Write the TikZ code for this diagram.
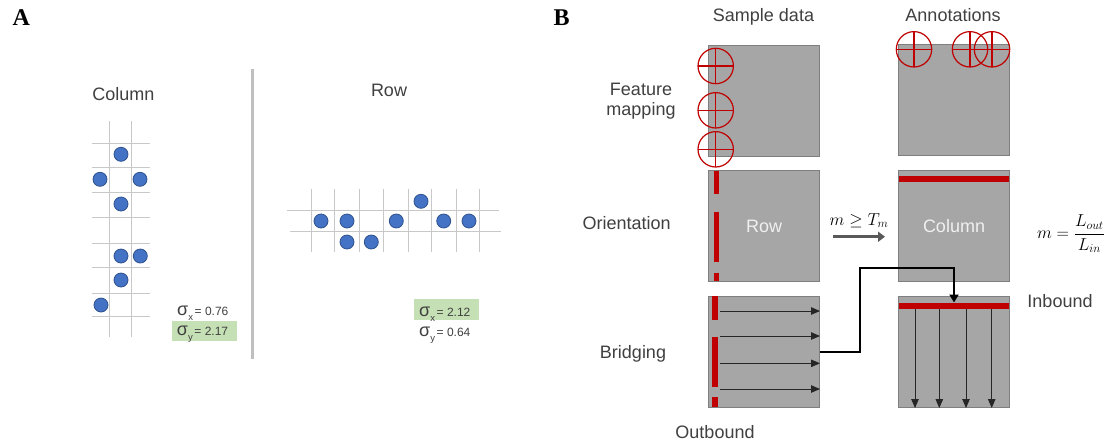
\documentclass[tikz,border=0pt]{standalone}
\usepackage{fontspec}
\setmainfont{Liberation Sans}
\newfontfamily\headfont{Liberation Serif}
\usetikzlibrary{arrows.meta}

\definecolor{ink}{RGB}{64,64,64}
\definecolor{gridgray}{RGB}{200,200,200}
\definecolor{dotblue}{RGB}{68,114,196}
\definecolor{dotedge}{RGB}{47,82,143}
\definecolor{hlgreen}{RGB}{197,224,180}
\definecolor{sepgray}{RGB}{191,191,191}
\definecolor{tilefill}{RGB}{166,166,166}
\definecolor{tileedge}{RGB}{127,127,127}
\definecolor{tiletext}{RGB}{240,240,240}
\definecolor{markred}{RGB}{192,0,0}
\definecolor{flowink}{RGB}{38,38,38}
\definecolor{arrowgray}{RGB}{89,89,89}

% sigma with a lowered subscript, followed by its value
\newcommand\sdev[2]{{\fontsize{18}{18}\selectfont σ}\raisebox{-5pt}{\fontsize{9.5}{9.5}\selectfont #1}\,{\fontsize{12}{12}\selectfont= #2}}

\tikzset{
  lbl/.style={font=\fontsize{18}{20}\selectfont, text=ink, inner sep=0, anchor=base},
  head/.style={font=\headfont\bfseries\fontsize{24}{24}\selectfont, inner sep=0, anchor=base},
  sd/.style={text=ink, inner sep=0, anchor=base west},
  gridline/.style={gridgray, line width=1pt},
  bead/.style={circle, fill=dotblue, draw=dotedge, line width=0.8pt, minimum size=14pt, inner sep=0},
  tile/.style={draw=tileedge, fill=tilefill, line width=1pt, minimum width=111pt, minimum height=111pt,
    inner sep=0, text=tiletext, font=\fontsize{18}{20}\selectfont},
  probe/.style={circle, draw=markred, line width=1.2pt, minimum size=35.4pt, inner sep=0,
    path picture={\draw[markred, line width=1.1pt]
      (path picture bounding box.north) -- (path picture bounding box.south)
      (path picture bounding box.west) -- (path picture bounding box.east);}},
  redbar/.style={markred, line width=6pt},
  flow/.style={flowink, line width=0.9pt, -{Triangle[length=9pt,width=7.5pt]}},
  link/.style={black, line width=2pt, -{Triangle[length=8pt,width=9pt]}},
  condarrow/.style={arrowgray, line width=2.8pt, -{Triangle[length=7pt,width=10pt]}},
}

\begin{document}
\begin{tikzpicture}[x=1pt,y=-1pt]
\useasboundingbox (0,0) rectangle (1115,445);
\fill[white] (0,0) rectangle (1115,445);

% ---------- panel A ----------
\node[head] (pa) at (21.3,25) {A};
\node[lbl] (tcol) at (123.5,100) {Column};
\node[lbl] (trow) at (389,96.7) {Row};

% column grid
\foreach \x in {109.3,131.7} \draw[gridline] (\x,121) -- (\x,337);
\foreach \y in {143.3,167.7,192.7,217,243.7,267.7,293.3,316} \draw[gridline] (92.3,\y) -- (149.7,\y);
\foreach \p [count=\i] in {(121,154.3),(100,179.3),(140,179.3),(121,204),(121,256),(140.3,256),(121,280),(101,305)}
  \node[bead] (c\i) at \p {};

% row grid
\foreach \x in {311.3,334,359.3,383.7,408.7,431.7,456.7,479.3} \draw[gridline] (\x,189.3) -- (\x,251.7);
\draw[gridline] (287.3,210.7) -- (499,210.7);
\draw[gridline] (290,231) -- (501,231);
\foreach \p [count=\i] in {(321,221),(347,221),(396.3,221),(443.7,221),(469,221),(421,201.3),(347,242),(371.3,242)}
  \node[bead] (r\i) at \p {};

% spread values
\fill[hlgreen] (172,320.7) rectangle (237,341);
\node[sd] (sxc) at (177,315) {\sdev{x}{0.76}};
\node[sd] (syc) at (176.7,335) {\sdev{y}{2.17}};
\fill[hlgreen] (414.3,299.3) rectangle (479,320);
\node[sd] (sxr) at (419,316.5) {\sdev{x}{2.12}};
\node[sd] (syr) at (419,336.5) {\sdev{y}{0.64}};

% divider
\draw[sepgray, line width=3pt] (252.7,69) -- (252.7,359);

% ---------- panel B ----------
\node[head] (pb) at (561.5,25) {B};
\node[lbl] (hsample) at (763.5,21.7) {Sample data};
\node[lbl] (hannot) at (953,21) {Annotations};
\node[lbl] (lfeat1) at (641,95) {Feature};
\node[lbl] (lfeat2) at (641,115) {mapping};
\node[lbl] (lorient) at (626.7,229.3) {Orientation};
\node[lbl] (lbridge) at (633,358.3) {Bridging};
\node[lbl] (lin) at (1060,307.7) {Inbound};
\node[lbl] (lout) at (715,438.3) {Outbound};

% tiles
\node[tile] (r1l) at (764,100.5) {};
\node[tile] (r1r) at (954,100.3) {};
\node[tile] (r2l) at (764,226) {Row};
\node[tile] (r2r) at (954,226) {Column};
\node[tile] (r3l) at (764,352) {};
\node[tile] (r3r) at (954,352) {};

% feature probes
\node[probe] (p1) at (715.7,66) {};
\node[probe] (p2) at (715.7,110.3) {};
\node[probe] (p3) at (715.7,149.3) {};
\node[probe] (q1) at (914,49.3) {};
\node[probe] (q2) at (970,49.3) {};
\node[probe] (q3) at (992,49.3) {};

% orientation marks
\draw[markred, line width=5.3pt] (716.3,170.7) -- (716.3,194.3)
  (716.3,211.7) -- (716.3,261.7) (716.3,272.7) -- (716.3,281);
\draw[redbar] (899,178.7) -- (1009,178.7);

% condition
\node[font=\fontsize{18}{20}\selectfont, inner sep=0, anchor=base] (cond) at (859,225) {$m \geq T_m$};
\coordinate (ca) at (833,236.7);
\coordinate (cb) at (885,236.7);
\draw[condarrow] (ca) -- (cb);
\node[font=\fontsize{18}{20}\selectfont, inner sep=0, anchor=base] (ratio) at (1071,238.3)
  {$\displaystyle m=\frac{L_{out}}{L_{in}}$};

% bridging marks and flows
\draw[markred, line width=6pt] (715.3,296) -- (715.3,320)
  (715.3,336.7) -- (715.3,386.7) (715.3,397.3) -- (715.3,406.7);
\foreach \y in {311,336,363.3,389} \draw[flow] (720,\y) -- (r3l.east |- 0,\y);
\draw[redbar] (899,305.5) -- (1009,305.5);
\foreach \x in {915,939.3,966,991.7} \draw[flow] (\x,308.5) -- (r3r.south -| \x,0);

% hand-over from outbound to inbound
\coordinate (bend) at (860,268.3);
\coordinate (inlet) at (954,302.5);
\draw[link] (r3l.east) -| (bend) -| (inlet);
\end{tikzpicture}
\end{document}
